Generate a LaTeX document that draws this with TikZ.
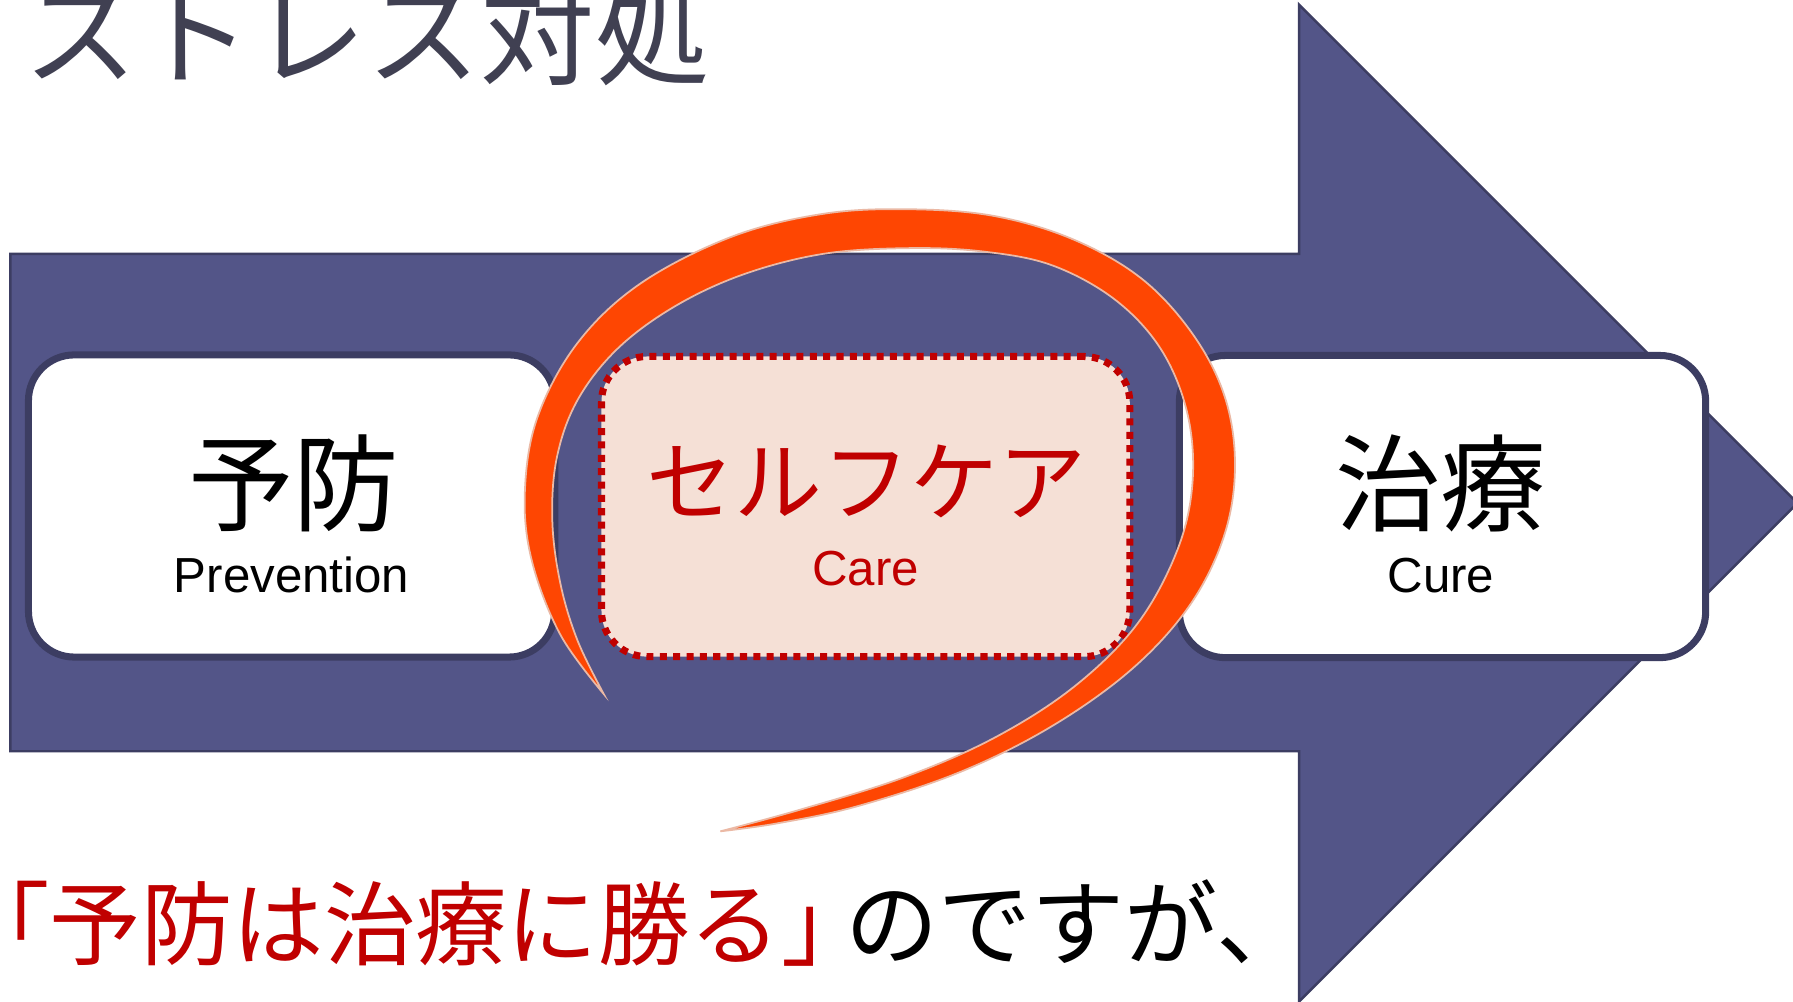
\documentclass[tikz,border=0pt]{standalone}
\usepackage{fontspec}
\setmainfont{Liberation Sans}
\newfontfamily\jp{Noto Sans CJK JP}
\definecolor{navy}{RGB}{83,85,136}
\definecolor{navyline}{RGB}{60,61,98}
\definecolor{titlegrey}{RGB}{64,64,82}
\definecolor{careRed}{RGB}{192,0,0}
\definecolor{peach}{RGB}{245,224,214}
\definecolor{swirl}{RGB}{254,70,2}
\definecolor{swirledge}{RGB}{235,185,165}
\tikzset{
  stagebox/.style={draw=navyline, fill=white, line width=2pt, rounded corners=13pt,
    minimum width=5.26cm, minimum height=3.02cm, inner sep=0pt},
  carebox/.style={draw=careRed, fill=peach, line width=2pt, dash pattern=on 2pt off 1.8pt,
    rounded corners=13pt, minimum width=5.28cm, minimum height=3.0cm, inner sep=0pt},
  kanji/.style={font=\jp\fontsize{30}{30}\selectfont, inner sep=0pt},
  latin/.style={font=\fontsize{14}{14}\selectfont, inner sep=0pt, anchor=base},
  motto/.style={font=\jp\fontsize{26}{26}\selectfont, anchor=base west, inner sep=0pt},
}
\begin{document}
\begin{tikzpicture}[x=0.011435cm,y=-0.011435cm]
\useasboundingbox (0,0) rectangle (1568,876);
\clip (0,0) rectangle (1568,876);
\fill[white] (0,0) rectangle (1568,876);
% big arrow
\draw[fill=navy, draw=navyline, line width=0.7pt, line join=miter]
  (9,222) -- (1136,222) -- (1136,4) -- (1572,440) -- (1136,876) -- (1136,657) -- (9,657) -- cycle;
% boxes
\node[stagebox] (prev) at (255,442.5) {};
\node[stagebox] (cure) at (1261.5,443) {};
\node[carebox] (care) at (757,443) {};
% labels
\node[kanji] (prevJ) at (257,423) {予防};
\node[latin] (prevE) at (255,518) {Prevention};
\node[kanji, text=careRed, font=\jp\fontsize{25}{25}\selectfont] (careJ) at (758,421) {セルフケア};
\node[latin, text=careRed] (careE) at (757,512) {Care};
\node[kanji] (cureJ) at (1260,423) {治療};
\node[latin] (cureE) at (1260,518) {Cure};
% title
\node[font=\jp\fontsize{32.5}{32.5}\selectfont, text=titlegrey, anchor=base west, inner sep=0pt]
  (title) at (20,67) {ストレス対処};
% bottom sentence
\node[motto, text=careRed] (motto) at (-37,838) {「予防は治療に勝る」};
\node[motto, xshift=-0.29cm, font=\jp\fontsize{26.5}{26.5}\selectfont] (mottoTail) at (motto.base east) {のですが、};
% swirl
\fill[swirl, draw=swirledge, line width=0.5pt]
  plot[smooth, tension=0.6] coordinates {(528,607) (490,555) (465,490) (459,430) (470,365) (505,300) (560,248) (640,207) (720,187) (795,183) (870,189) (940,210) (1000,245) (1045,295) (1072,350) (1080,410) (1070,470) (1040,530) (990,585) (920,635) (840,675) (750,705) (680,720) (630,727)}
  -- plot[smooth, tension=0.6] coordinates {(630,727) (700,708) (790,680) (870,645) (940,600) (995,545) (1030,480) (1043,420) (1038,360) (1015,305) (975,262) (920,232) (860,220) (795,217) (720,222) (650,240) (590,268) (540,305) (505,350) (487,400) (483,455) (490,510) (505,560) (528,607)}
  -- cycle;
\end{tikzpicture}
\end{document}
